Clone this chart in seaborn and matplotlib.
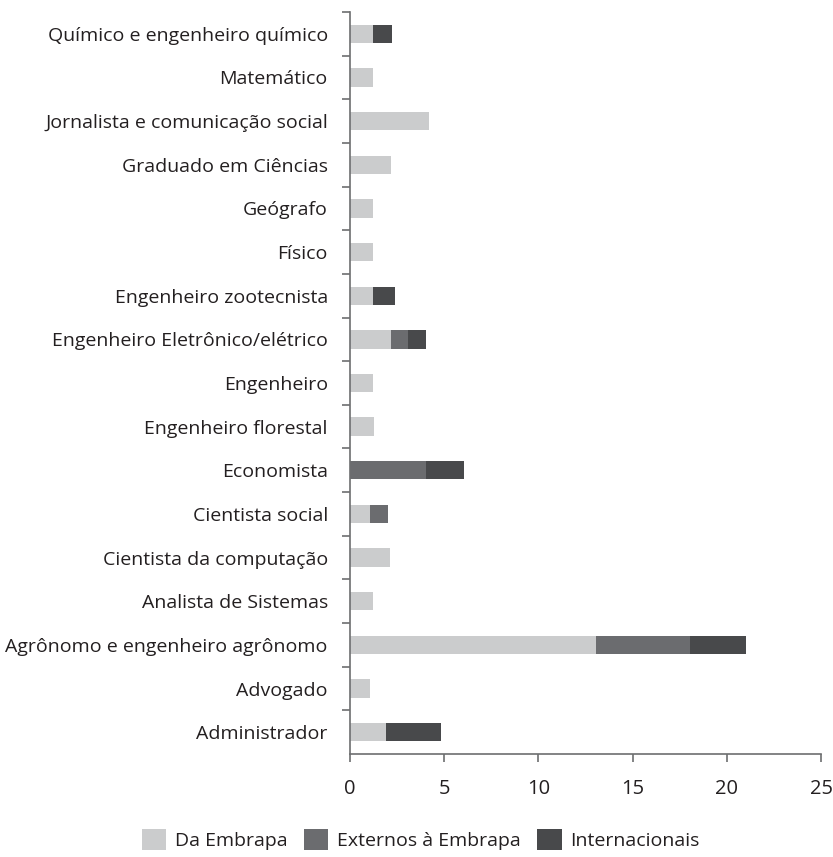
import matplotlib
matplotlib.use("Agg")
import matplotlib.pyplot as plt
import seaborn as sns
import pandas as pd
import numpy as np
from matplotlib.patches import Patch

categories = [
    "Químico e engenheiro químico",
    "Matemático",
    "Jornalista e comunicação social",
    "Graduado em Ciências",
    "Geógrafo",
    "Físico",
    "Engenheiro zootecnista",
    "Engenheiro Eletrônico/elétrico",
    "Engenheiro",
    "Engenheiro florestal",
    "Economista",
    "Cientista social",
    "Cientista da computação",
    "Analista de Sistemas",
    "Agrônomo e engenheiro agrônomo",
    "Advogado",
    "Administrador",
]
da_embrapa = [1.2, 1.2, 4.2, 2.2, 1.2, 1.2, 1.2, 2.15, 1.2, 1.25, 0, 1.05, 2.1, 1.2, 13.05, 1.05, 1.9]
externos = [0, 0, 0, 0, 0, 0, 0, 0.95, 0, 0, 4.05, 0.95, 0, 0, 5.0, 0, 0]
internacionais = [1.05, 0, 0, 0, 0, 0, 1.2, 0.95, 0, 0, 2.0, 0, 0, 0, 2.95, 0, 2.95]
series_names = ["Da Embrapa", "Externos à Embrapa", "Internacionais"]
colors = ["#cbcccd", "#6b6c6f", "#48494b"]
xticks = [0, 5, 10, 15, 20, 25]

sns.set_theme(style="white")
plt.rcParams["font.family"] = ["Open Sans", "DejaVu Sans"]
text_color = "#231f20"

df = pd.DataFrame({"cat": categories,
                   "a": da_embrapa, "b": externos, "c": internacionais})
df["ab"] = df["a"] + df["b"]
df["abc"] = df["ab"] + df["c"]

fig = plt.figure(figsize=(8.33, 8.57), dpi=100)
ax = fig.add_axes([350/833, 103/857, 471/833, 742/857])

w = 0.42
sns.barplot(data=df, y="cat", x="abc", color=colors[2], width=w, ax=ax,
            saturation=1, linewidth=0, orient="h")
sns.barplot(data=df, y="cat", x="ab", color=colors[1], width=w, ax=ax,
            saturation=1, linewidth=0, orient="h")
sns.barplot(data=df, y="cat", x="a", color=colors[0], width=w, ax=ax,
            saturation=1, linewidth=0, orient="h")

ax.set_xlim(0, 25)
ax.set_ylim(len(categories) - 0.5, -0.5)
ax.set_xlabel("")
ax.set_ylabel("")
ax.set_xticks(xticks)
ax.set_xticklabels([str(t) for t in xticks])

axis_color = "#6d6e70"
for s in ["top", "right"]:
    ax.spines[s].set_visible(False)
for s in ["left", "bottom"]:
    ax.spines[s].set_color(axis_color)
    ax.spines[s].set_linewidth(1.2)

ax.set_yticks(np.arange(len(categories)))
ax.set_yticklabels(categories)
ax.set_yticks(np.arange(len(categories)) - 0.5, minor=True)
ax.tick_params(axis="y", which="major", length=0, pad=16, labelsize=14,
               labelcolor=text_color)
ax.tick_params(axis="y", which="minor", left=True, length=6, width=1.2,
               color=axis_color, direction="out")
ax.tick_params(axis="x", which="major", bottom=True, length=6, width=1.2,
               color=axis_color, direction="out", pad=12, labelsize=14.5,
               labelcolor=text_color)

handles = [Patch(facecolor=c, edgecolor="none") for c in colors]
leg = fig.legend(handles, series_names, loc="lower center",
                 bbox_to_anchor=(0.505, -0.012), ncol=3, frameon=False,
                 fontsize=14, handlelength=1.25, handleheight=1.25,
                 handletextpad=0.45, columnspacing=0.85)
for t in leg.get_texts():
    t.set_color(text_color)

fig.savefig("out.png", dpi=100)
